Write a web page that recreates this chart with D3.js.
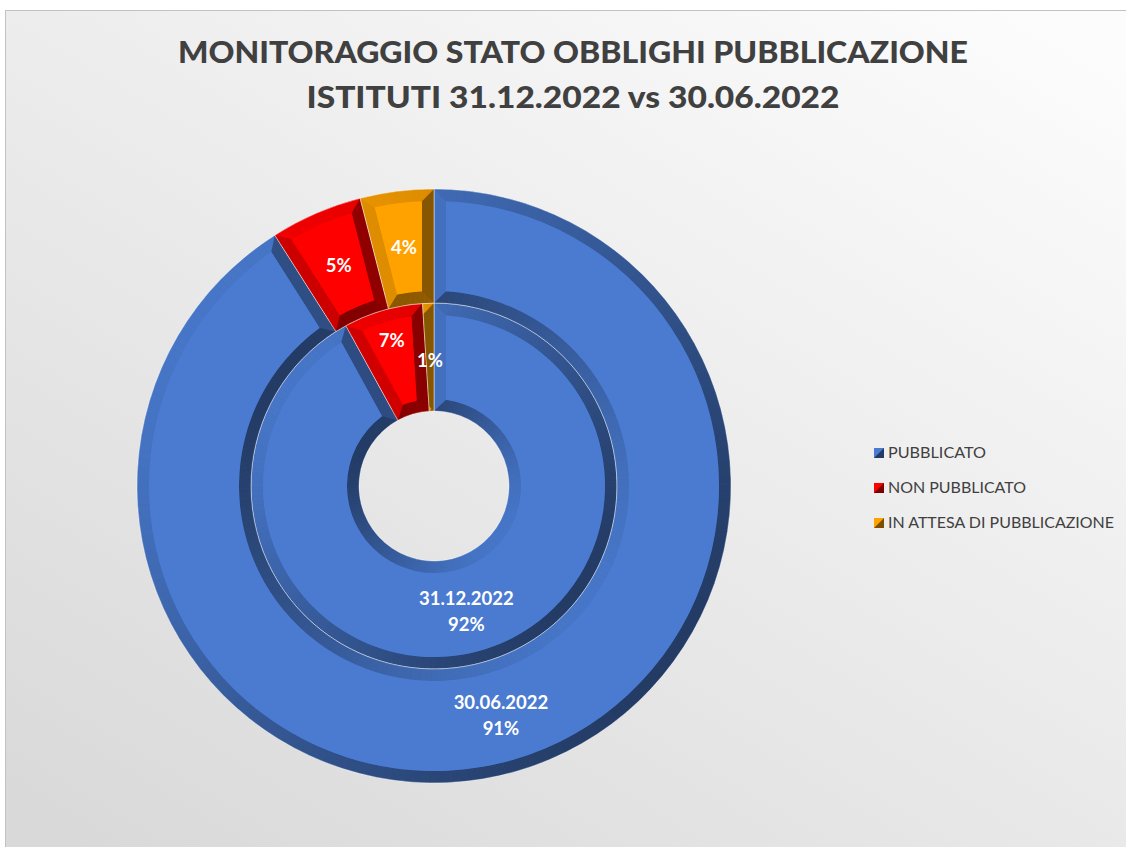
<!DOCTYPE html>
<html>
<head>
<meta charset="utf-8">
<style>
  body { margin: 0; background: #fff; }
  .lbl { font-family: Lato, "Open Sans", sans-serif; font-weight: bold; fill: #fff; text-anchor: middle; }
  .legend text { font-family: Lato, "Open Sans", sans-serif; font-size: 15px; fill: #404040; }
</style>
</head>
<body>
<script src="https://d3js.org/d3.v7.min.js"></script>
<script>
// data
var categories = ["PUBBLICATO", "NON PUBBLICATO", "IN ATTESA DI PUBBLICAZIONE"];
var seriesNames = ["31.12.2022", "30.06.2022"];
var values31_12 = [92, 7, 1];
var values30_06 = [91, 5, 4];
var colors = ["#4a7bd0", "#ff0000", "#ffa200"];
var titleLines = ["MONITORAGGIO STATO OBBLIGHI PUBBLICAZIONE", "ISTITUTI 31.12.2022 vs 30.06.2022"];

var W = 1126, H = 847;
var svg = d3.select("body").append("svg").attr("width", W).attr("height", H);
var defs = svg.append("defs");

var bg = defs.append("linearGradient").attr("id", "bg")
    .attr("x1", 0.9).attr("y1", 0).attr("x2", 0.1).attr("y2", 1);
bg.append("stop").attr("offset", 0).attr("stop-color", "#fcfcfc");
bg.append("stop").attr("offset", 1).attr("stop-color", "#d9d9d9");

svg.append("rect")
    .attr("x", 5.5).attr("y", 10.5)
    .attr("width", W + 10).attr("height", H + 10)
    .attr("fill", "url(#bg)")
    .attr("stroke", "#c2c2c2");

// title
svg.selectAll(".title").data(titleLines).enter().append("text")
    .attr("class", "title")
    .attr("x", 573)
    .attr("y", function(d, i) { return 63 + i * 45; })
    .attr("text-anchor", "middle")
    .attr("textLength", function(d, i) { return i === 0 ? 790 : 533; })
    .attr("lengthAdjust", "spacingAndGlyphs")
    .style("font-family", "Lato, 'Open Sans', sans-serif")
    .style("font-weight", "900")
    .style("font-size", "30px")
    .attr("fill", "#404040")
    .text(function(d) { return d; });

// rings
var cx = 434, cy = 486;
var radius = d3.scaleOrdinal().domain([0, 1, 2]).range([75, 183, 297]);
var bevel = 12;
var g = svg.append("g").attr("transform", "translate(" + cx + "," + cy + ")");

var pie = d3.pie().sort(null).startAngle(0).endAngle(2 * Math.PI);
var rings = [
  { name: seriesNames[0], values: values31_12, r: radius(0), R: radius(1), labelR: [130, 152, 126] },
  { name: seriesNames[1], values: values30_06, r: radius(1), R: radius(2), labelR: [240, 240, 240] }
];

// light from upper left
var Lx = -0.8, Ly = -0.6;
function shade(col, nx, ny) {
  var k = nx * Lx + ny * Ly;
  var f = -0.28 + 0.24 * k;
  return f < 0 ? d3.interpolateRgb(col, "#000")(-f) : d3.interpolateRgb(col, "#fff")(f);
}

var step = 1.5 * Math.PI / 180;

rings.forEach(function(ring, ri) {
  var arcs = pie(ring.values);
  var r = ring.r, R = ring.R;
  var full = d3.arc().innerRadius(r).outerRadius(R);

  arcs.forEach(function(d, i) {
    var col = colors[i];
    var id = "clip-" + ri + "-" + i;
    defs.append("clipPath").attr("id", id).append("path").attr("d", full(d));
    var sg = g.append("g").attr("clip-path", "url(#" + id + ")");
    sg.append("path").attr("d", full(d)).attr("fill", col);

    // outer and inner rim bands, shaded by their facing direction
    var n = Math.max(1, Math.ceil((d.endAngle - d.startAngle) / step));
    var da = (d.endAngle - d.startAngle) / n;
    var outerBand = d3.arc().innerRadius(R - bevel).outerRadius(R);
    var innerBand = d3.arc().innerRadius(r).outerRadius(r + bevel);
    for (var s = 0; s < n; s++) {
      var a0 = d.startAngle + s * da, a1 = a0 + da, m = (a0 + a1) / 2;
      var seg = { startAngle: a0, endAngle: a1 };
      var co = shade(col, Math.sin(m), -Math.cos(m));
      sg.append("path").attr("d", outerBand(seg)).attr("fill", co).attr("stroke", co).attr("stroke-width", 0.6);
      var ci = shade(col, -Math.sin(m), Math.cos(m));
      sg.append("path").attr("d", innerBand(seg)).attr("fill", ci).attr("stroke", ci).attr("stroke-width", 0.6);
    }

    // radial edge bands with mitered corners
    var rhoR = Math.sqrt((R - bevel) * (R - bevel) - bevel * bevel);
    var rhor = Math.sqrt((r + bevel) * (r + bevel) - bevel * bevel);
    [[d.startAngle, 1], [d.endAngle, -1]].forEach(function(e) {
      var a = e[0], sgn = e[1];
      var ux = Math.sin(a), uy = -Math.cos(a);
      var tx = Math.cos(a) * sgn, ty = Math.sin(a) * sgn;
      var pts = [
        [r * ux, r * uy],
        [R * ux, R * uy],
        [rhoR * ux + bevel * tx, rhoR * uy + bevel * ty],
        [rhor * ux + bevel * tx, rhor * uy + bevel * ty]
      ];
      sg.append("path")
        .attr("d", "M" + pts.join("L") + "Z")
        .attr("fill", shade(col, -tx, -ty));
    });

    // face
    var face = d3.arc().innerRadius(r + bevel).outerRadius(R - bevel)
        .padRadius(100).padAngle(2 * bevel / 100);
    sg.append("path").attr("d", face(d)).attr("fill", col);

    g.append("path").attr("d", full(d))
      .attr("fill", "none")
      .attr("stroke", "rgba(255,255,255,0.55)")
      .attr("stroke-width", 0.8);
  });

  // labels
  arcs.forEach(function(d, i) {
    var lr = ring.labelR[i];
    var c = d3.arc().innerRadius(lr).outerRadius(lr).centroid(d);
    var t = g.append("text").attr("class", "lbl")
        .attr("x", c[0]).attr("y", c[1])
        .style("font-size", "18.5px");
    if (i === 0) {
      t.append("tspan").attr("x", c[0]).attr("dy", "-0.4em").text(ring.name);
      t.append("tspan").attr("x", c[0]).attr("dy", "1.42em").text(d.data + "%");
    } else {
      t.attr("dy", "0.35em").text(d.data + "%");
    }
  });
});

// legend
var legW = [98, 138, 226];
var legend = svg.append("g").attr("class", "legend")
    .selectAll("g").data(categories).enter().append("g")
    .attr("transform", function(d, i) { return "translate(874," + (453 + i * 35) + ")"; });

categories.forEach(function(c, i) {
  var lg = defs.append("linearGradient").attr("id", "lg" + i)
      .attr("x1", 0).attr("y1", 0).attr("x2", 1).attr("y2", 1);
  lg.append("stop").attr("offset", 0.45).attr("stop-color", colors[i]);
  lg.append("stop").attr("offset", 0.55).attr("stop-color", shade(colors[i], 1, 0.3));
});

legend.append("rect")
    .attr("x", 0).attr("y", -5)
    .attr("width", 10).attr("height", 10)
    .attr("fill", function(d, i) { return "url(#lg" + i + ")"; });

legend.append("text")
    .attr("x", 14).attr("y", 0).attr("dy", "0.36em")
    .attr("textLength", function(d, i) { return legW[i]; })
    .attr("lengthAdjust", "spacingAndGlyphs")
    .text(function(d) { return d; });
</script>
</body>
</html>
